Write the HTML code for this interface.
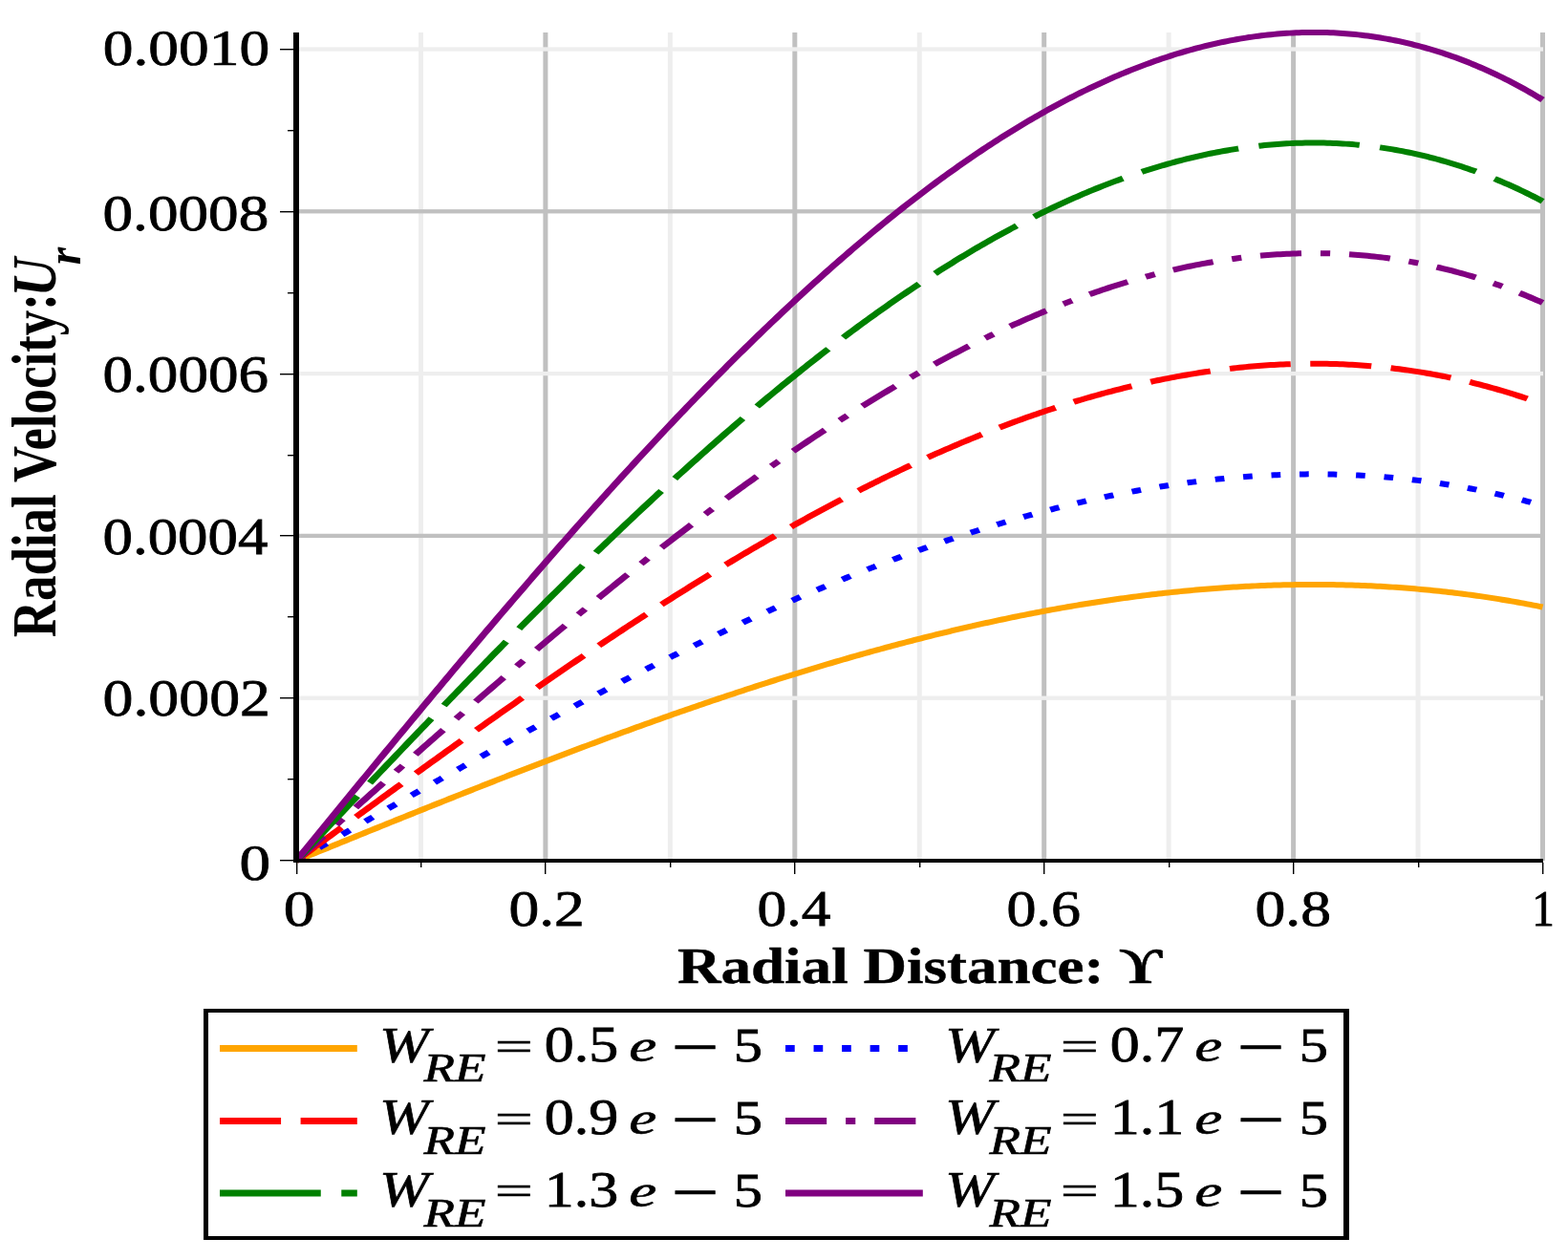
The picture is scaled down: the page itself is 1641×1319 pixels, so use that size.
<!DOCTYPE html>
<html><head><meta charset="utf-8"><style>
html,body{margin:0;padding:0;background:#fff;width:1641px;height:1319px;overflow:hidden}
svg{display:block}
text{font-family:'Liberation Serif', serif;fill:#000}
</style></head><body>
<svg width="1641" height="1319" viewBox="0 0 1641 1319">
<rect width="1641" height="1319" fill="#fff"/>
<rect x="437.95" y="34.0" width="5" height="867.0" fill="#eeeeee"/>
<rect x="568.40" y="34.0" width="5" height="867.0" fill="#c0c0c0"/>
<rect x="698.85" y="34.0" width="5" height="867.0" fill="#eeeeee"/>
<rect x="829.30" y="34.0" width="5" height="867.0" fill="#c0c0c0"/>
<rect x="959.75" y="34.0" width="5" height="867.0" fill="#eeeeee"/>
<rect x="1090.20" y="34.0" width="5" height="867.0" fill="#c0c0c0"/>
<rect x="1220.65" y="34.0" width="5" height="867.0" fill="#eeeeee"/>
<rect x="1351.10" y="34.0" width="5" height="867.0" fill="#c0c0c0"/>
<rect x="1481.55" y="34.0" width="5" height="867.0" fill="#eeeeee"/>
<rect x="1612.00" y="34.0" width="5" height="867.0" fill="#c0c0c0"/>
<rect x="313" y="728.55" width="1302" height="4.3" fill="#eeeeee"/>
<rect x="313" y="558.75" width="1302" height="4.3" fill="#c0c0c0"/>
<rect x="313" y="388.95" width="1302" height="4.3" fill="#eeeeee"/>
<rect x="313" y="219.15" width="1302" height="4.3" fill="#c0c0c0"/>
<rect x="313" y="49.35" width="1302" height="4.3" fill="#eeeeee"/>
<g transform="scale(1.244124,1)">
<polyline points="249.17,901.00 251.80,899.67 254.43,898.34 257.05,897.01 259.68,895.68 262.31,894.35 264.94,893.02 267.57,891.69 270.19,890.36 272.82,889.03 275.45,887.70 278.08,886.37 280.71,885.04 283.33,883.71 285.96,882.38 288.59,881.05 291.22,879.72 293.85,878.40 296.47,877.07 299.10,875.74 301.73,874.42 304.36,873.09 306.98,871.77 309.61,870.44 312.24,869.12 314.87,867.79 317.50,866.47 320.12,865.15 322.75,863.83 325.38,862.51 328.01,861.19 330.64,859.87 333.26,858.55 335.89,857.23 338.52,855.92 341.15,854.60 343.78,853.29 346.40,851.97 349.03,850.66 351.66,849.35 354.29,848.03 356.91,846.72 359.54,845.41 362.17,844.11 364.80,842.80 367.43,841.49 370.05,840.19 372.68,838.89 375.31,837.58 377.94,836.28 380.57,834.98 383.19,833.68 385.82,832.38 388.45,831.09 391.08,829.79 393.71,828.50 396.33,827.21 398.96,825.92 401.59,824.63 404.22,823.34 406.84,822.05 409.47,820.77 412.10,819.48 414.73,818.20 417.36,816.92 419.98,815.64 422.61,814.37 425.24,813.09 427.87,811.82 430.50,810.55 433.12,809.28 435.75,808.01 438.38,806.74 441.01,805.48 443.64,804.21 446.26,802.95 448.89,801.69 451.52,800.43 454.15,799.18 456.77,797.93 459.40,796.67 462.03,795.42 464.66,794.18 467.29,792.93 469.91,791.69 472.54,790.45 475.17,789.21 477.80,787.97 480.43,786.74 483.05,785.50 485.68,784.27 488.31,783.04 490.94,781.82 493.57,780.60 496.19,779.37 498.82,778.16 501.45,776.94 504.08,775.72 506.70,774.51 509.33,773.30 511.96,772.10 514.59,770.89 517.22,769.69 519.84,768.49 522.47,767.30 525.10,766.10 527.73,764.91 530.36,763.72 532.98,762.54 535.61,761.35 538.24,760.17 540.87,758.99 543.50,757.82 546.12,756.65 548.75,755.48 551.38,754.31 554.01,753.15 556.63,751.99 559.26,750.83 561.89,749.68 564.52,748.52 567.15,747.37 569.77,746.23 572.40,745.09 575.03,743.95 577.66,742.81 580.29,741.68 582.91,740.55 585.54,739.42 588.17,738.30 590.80,737.18 593.43,736.06 596.05,734.94 598.68,733.83 601.31,732.73 603.94,731.62 606.56,730.52 609.19,729.42 611.82,728.33 614.45,727.24 617.08,726.15 619.70,725.07 622.33,723.99 624.96,722.91 627.59,721.84 630.22,720.77 632.84,719.71 635.47,718.65 638.10,717.59 640.73,716.53 643.35,715.48 645.98,714.44 648.61,713.39 651.24,712.35 653.87,711.32 656.49,710.29 659.12,709.26 661.75,708.24 664.38,707.22 667.01,706.20 669.63,705.19 672.26,704.18 674.89,703.18 677.52,702.18 680.15,701.18 682.77,700.19 685.40,699.20 688.03,698.22 690.66,697.24 693.28,696.26 695.91,695.29 698.54,694.33 701.17,693.37 703.80,692.41 706.42,691.45 709.05,690.51 711.68,689.56 714.31,688.62 716.94,687.69 719.56,686.75 722.19,685.83 724.82,684.90 727.45,683.99 730.08,683.07 732.70,682.17 735.33,681.26 737.96,680.36 740.59,679.47 743.21,678.58 745.84,677.69 748.47,676.81 751.10,675.94 753.73,675.06 756.35,674.20 758.98,673.34 761.61,672.48 764.24,671.63 766.87,670.78 769.49,669.94 772.12,669.10 774.75,668.27 777.38,667.45 780.01,666.62 782.63,665.81 785.26,665.00 787.89,664.19 790.52,663.39 793.14,662.59 795.77,661.80 798.40,661.02 801.03,660.23 803.66,659.46 806.28,658.69 808.91,657.92 811.54,657.17 814.17,656.41 816.80,655.66 819.42,654.92 822.05,654.18 824.68,653.45 827.31,652.72 829.94,652.00 832.56,651.29 835.19,650.58 837.82,649.87 840.45,649.17 843.07,648.48 845.70,647.79 848.33,647.11 850.96,646.43 853.59,645.76 856.21,645.10 858.84,644.44 861.47,643.79 864.10,643.14 866.73,642.50 869.35,641.86 871.98,641.23 874.61,640.61 877.24,639.99 879.87,639.38 882.49,638.78 885.12,638.18 887.75,637.58 890.38,637.00 893.00,636.41 895.63,635.84 898.26,635.27 900.89,634.71 903.52,634.15 906.14,633.60 908.77,633.06 911.40,632.52 914.03,631.99 916.66,631.46 919.28,630.94 921.91,630.43 924.54,629.93 927.17,629.43 929.80,628.93 932.42,628.45 935.05,627.97 937.68,627.49 940.31,627.03 942.93,626.57 945.56,626.11 948.19,625.67 950.82,625.23 953.45,624.79 956.07,624.37 958.70,623.95 961.33,623.53 963.96,623.13 966.59,622.73 969.21,622.33 971.84,621.95 974.47,621.57 977.10,621.20 979.73,620.83 982.35,620.47 984.98,620.12 987.61,619.78 990.24,619.44 992.86,619.11 995.49,618.79 998.12,618.47 1000.75,618.16 1003.38,617.86 1006.00,617.57 1008.63,617.28 1011.26,617.00 1013.89,616.73 1016.52,616.46 1019.14,616.20 1021.77,615.95 1024.40,615.71 1027.03,615.47 1029.65,615.24 1032.28,615.02 1034.91,614.81 1037.54,614.60 1040.17,614.41 1042.79,614.21 1045.42,614.03 1048.05,613.86 1050.68,613.69 1053.31,613.53 1055.93,613.37 1058.56,613.23 1061.19,613.09 1063.82,612.96 1066.45,612.84 1069.07,612.73 1071.70,612.62 1074.33,612.52 1076.96,612.43 1079.58,612.35 1082.21,612.27 1084.84,612.21 1087.47,612.15 1090.10,612.10 1092.72,612.05 1095.35,612.02 1097.98,611.99 1100.61,611.97 1103.24,611.96 1105.86,611.96 1108.49,611.97 1111.12,611.98 1113.75,612.00 1116.38,612.03 1119.00,612.07 1121.63,612.12 1124.26,612.17 1126.89,612.24 1129.51,612.31 1132.14,612.39 1134.77,612.48 1137.40,612.58 1140.03,612.68 1142.65,612.80 1145.28,612.92 1147.91,613.05 1150.54,613.19 1153.17,613.34 1155.79,613.50 1158.42,613.66 1161.05,613.84 1163.68,614.02 1166.31,614.21 1168.93,614.42 1171.56,614.63 1174.19,614.84 1176.82,615.07 1179.44,615.31 1182.07,615.55 1184.70,615.81 1187.33,616.07 1189.96,616.34 1192.58,616.62 1195.21,616.91 1197.84,617.21 1200.47,617.52 1203.10,617.83 1205.72,618.16 1208.35,618.50 1210.98,618.84 1213.61,619.19 1216.24,619.56 1218.86,619.93 1221.49,620.31 1224.12,620.70 1226.75,621.10 1229.37,621.51 1232.00,621.93 1234.63,622.35 1237.26,622.79 1239.89,623.24 1242.51,623.69 1245.14,624.16 1247.77,624.63 1250.40,625.12 1253.03,625.61 1255.65,626.12 1258.28,626.63 1260.91,627.15 1263.54,627.69 1266.17,628.23 1268.79,628.78 1271.42,629.34 1274.05,629.91 1276.68,630.49 1279.30,631.09 1281.93,631.69 1284.56,632.30 1287.19,632.92 1289.82,633.55 1292.44,634.19 1295.07,634.84 1297.70,635.50" fill="none" stroke="#ffa500" stroke-width="6"/>
<polyline points="249.17,901.00 251.80,899.14 254.43,897.27 257.05,895.41 259.68,893.55 262.31,891.68 264.94,889.82 267.57,887.96 270.19,886.10 272.82,884.24 275.45,882.37 278.08,880.51 280.71,878.65 283.33,876.79 285.96,874.93 288.59,873.07 291.22,871.21 293.85,869.36 296.47,867.50 299.10,865.64 301.73,863.78 304.36,861.93 306.98,860.07 309.61,858.22 312.24,856.37 314.87,854.51 317.50,852.66 320.12,850.81 322.75,848.96 325.38,847.11 328.01,845.26 330.64,843.42 333.26,841.57 335.89,839.73 338.52,837.88 341.15,836.04 343.78,834.20 346.40,832.36 349.03,830.52 351.66,828.68 354.29,826.85 356.91,825.01 359.54,823.18 362.17,821.35 364.80,819.52 367.43,817.69 370.05,815.86 372.68,814.04 375.31,812.22 377.94,810.39 380.57,808.57 383.19,806.76 385.82,804.94 388.45,803.12 391.08,801.31 393.71,799.50 396.33,797.69 398.96,795.88 401.59,794.08 404.22,792.28 406.84,790.47 409.47,788.68 412.10,786.88 414.73,785.08 417.36,783.29 419.98,781.50 422.61,779.71 425.24,777.93 427.87,776.15 430.50,774.36 433.12,772.59 435.75,770.81 438.38,769.04 441.01,767.27 443.64,765.50 446.26,763.73 448.89,761.97 451.52,760.21 454.15,758.45 456.77,756.70 459.40,754.94 462.03,753.19 464.66,751.45 467.29,749.70 469.91,747.96 472.54,746.23 475.17,744.49 477.80,742.76 480.43,741.03 483.05,739.30 485.68,737.58 488.31,735.86 490.94,734.15 493.57,732.43 496.19,730.72 498.82,729.02 501.45,727.31 504.08,725.61 506.70,723.92 509.33,722.23 511.96,720.54 514.59,718.85 517.22,717.17 519.84,715.49 522.47,713.81 525.10,712.14 527.73,710.47 530.36,708.81 532.98,707.15 535.61,705.49 538.24,703.84 540.87,702.19 543.50,700.55 546.12,698.91 548.75,697.27 551.38,695.64 554.01,694.01 556.63,692.38 559.26,690.76 561.89,689.15 564.52,687.53 567.15,685.92 569.77,684.32 572.40,682.72 575.03,681.13 577.66,679.53 580.29,677.95 582.91,676.37 585.54,674.79 588.17,673.21 590.80,671.65 593.43,670.08 596.05,668.52 598.68,666.97 601.31,665.42 603.94,663.87 606.56,662.33 609.19,660.79 611.82,659.26 614.45,657.74 617.08,656.21 619.70,654.70 622.33,653.19 624.96,651.68 627.59,650.18 630.22,648.68 632.84,647.19 635.47,645.70 638.10,644.22 640.73,642.75 643.35,641.28 645.98,639.81 648.61,638.35 651.24,636.89 653.87,635.45 656.49,634.00 659.12,632.56 661.75,631.13 664.38,629.70 667.01,628.28 669.63,626.86 672.26,625.45 674.89,624.05 677.52,622.65 680.15,621.25 682.77,619.87 685.40,618.48 688.03,617.11 690.66,615.74 693.28,614.37 695.91,613.01 698.54,611.66 701.17,610.31 703.80,608.97 706.42,607.64 709.05,606.31 711.68,604.99 714.31,603.67 716.94,602.36 719.56,601.06 722.19,599.76 724.82,598.47 727.45,597.18 730.08,595.90 732.70,594.63 735.33,593.37 737.96,592.11 740.59,590.85 743.21,589.61 745.84,588.37 748.47,587.14 751.10,585.91 753.73,584.69 756.35,583.48 758.98,582.27 761.61,581.07 764.24,579.88 766.87,578.70 769.49,577.52 772.12,576.35 774.75,575.18 777.38,574.02 780.01,572.87 782.63,571.73 785.26,570.59 787.89,569.46 790.52,568.34 793.14,567.23 795.77,566.12 798.40,565.02 801.03,563.93 803.66,562.84 806.28,561.77 808.91,560.69 811.54,559.63 814.17,558.58 816.80,557.53 819.42,556.49 822.05,555.46 824.68,554.43 827.31,553.41 829.94,552.40 832.56,551.40 835.19,550.41 837.82,549.42 840.45,548.44 843.07,547.47 845.70,546.51 848.33,545.56 850.96,544.61 853.59,543.67 856.21,542.74 858.84,541.82 861.47,540.90 864.10,540.00 866.73,539.10 869.35,538.21 871.98,537.33 874.61,536.46 877.24,535.59 879.87,534.73 882.49,533.89 885.12,533.05 887.75,532.22 890.38,531.39 893.00,530.58 895.63,529.78 898.26,528.98 900.89,528.19 903.52,527.41 906.14,526.64 908.77,525.88 911.40,525.13 914.03,524.38 916.66,523.65 919.28,522.92 921.91,522.20 924.54,521.50 927.17,520.80 929.80,520.11 932.42,519.43 935.05,518.75 937.68,518.09 940.31,517.44 942.93,516.79 945.56,516.16 948.19,515.53 950.82,514.92 953.45,514.31 956.07,513.71 958.70,513.12 961.33,512.55 963.96,511.98 966.59,511.42 969.21,510.87 971.84,510.33 974.47,509.80 977.10,509.27 979.73,508.76 982.35,508.26 984.98,507.77 987.61,507.29 990.24,506.82 992.86,506.35 995.49,505.90 998.12,505.46 1000.75,505.03 1003.38,504.60 1006.00,504.19 1008.63,503.79 1011.26,503.40 1013.89,503.02 1016.52,502.65 1019.14,502.28 1021.77,501.93 1024.40,501.59 1027.03,501.26 1029.65,500.94 1032.28,500.63 1034.91,500.33 1037.54,500.05 1040.17,499.77 1042.79,499.50 1045.42,499.24 1048.05,499.00 1050.68,498.76 1053.31,498.54 1055.93,498.32 1058.56,498.12 1061.19,497.93 1063.82,497.75 1066.45,497.58 1069.07,497.42 1071.70,497.27 1074.33,497.13 1076.96,497.00 1079.58,496.89 1082.21,496.78 1084.84,496.69 1087.47,496.61 1090.10,496.53 1092.72,496.47 1095.35,496.43 1097.98,496.39 1100.61,496.36 1103.24,496.35 1105.86,496.34 1108.49,496.35 1111.12,496.37 1113.75,496.40 1116.38,496.45 1119.00,496.50 1121.63,496.57 1124.26,496.64 1126.89,496.73 1129.51,496.83 1132.14,496.95 1134.77,497.07 1137.40,497.21 1140.03,497.36 1142.65,497.52 1145.28,497.69 1147.91,497.87 1150.54,498.07 1153.17,498.28 1155.79,498.50 1158.42,498.73 1161.05,498.97 1163.68,499.23 1166.31,499.50 1168.93,499.78 1171.56,500.08 1174.19,500.38 1176.82,500.70 1179.44,501.03 1182.07,501.37 1184.70,501.73 1187.33,502.10 1189.96,502.48 1192.58,502.87 1195.21,503.27 1197.84,503.69 1200.47,504.12 1203.10,504.57 1205.72,505.02 1208.35,505.49 1210.98,505.98 1213.61,506.47 1216.24,506.98 1218.86,507.50 1221.49,508.03 1224.12,508.58 1226.75,509.14 1229.37,509.71 1232.00,510.30 1234.63,510.90 1237.26,511.51 1239.89,512.13 1242.51,512.77 1245.14,513.42 1247.77,514.09 1250.40,514.77 1253.03,515.46 1255.65,516.16 1258.28,516.88 1260.91,517.61 1263.54,518.36 1266.17,519.12 1268.79,519.89 1271.42,520.68 1274.05,521.48 1276.68,522.29 1279.30,523.12 1281.93,523.96 1284.56,524.82 1287.19,525.69 1289.82,526.57 1292.44,527.46 1295.07,528.38 1297.70,529.30" fill="none" stroke="#0000ff" stroke-width="6" stroke-dasharray="7.8 15.94"/>
<polyline points="249.17,901.00 251.80,898.60 254.43,896.21 257.05,893.81 259.68,891.42 262.31,889.02 264.94,886.63 267.57,884.23 270.19,881.84 272.82,879.45 275.45,877.05 278.08,874.66 280.71,872.27 283.33,869.88 285.96,867.48 288.59,865.09 291.22,862.70 293.85,860.31 296.47,857.93 299.10,855.54 301.73,853.15 304.36,850.76 306.98,848.38 309.61,846.00 312.24,843.61 314.87,841.23 317.50,838.85 320.12,836.47 322.75,834.09 325.38,831.71 328.01,829.34 330.64,826.96 333.26,824.59 335.89,822.22 338.52,819.85 341.15,817.48 343.78,815.11 346.40,812.75 349.03,810.38 351.66,808.02 354.29,805.66 356.91,803.30 359.54,800.95 362.17,798.59 364.80,796.24 367.43,793.89 370.05,791.54 372.68,789.19 375.31,786.85 377.94,784.51 380.57,782.17 383.19,779.83 385.82,777.49 388.45,775.16 391.08,772.83 393.71,770.50 396.33,768.17 398.96,765.85 401.59,763.53 404.22,761.21 406.84,758.90 409.47,756.58 412.10,754.27 414.73,751.97 417.36,749.66 419.98,747.36 422.61,745.06 425.24,742.77 427.87,740.47 430.50,738.18 433.12,735.90 435.75,733.61 438.38,731.33 441.01,729.06 443.64,726.78 446.26,724.51 448.89,722.25 451.52,719.98 454.15,717.72 456.77,715.47 459.40,713.21 462.03,710.96 464.66,708.72 467.29,706.48 469.91,704.24 472.54,702.00 475.17,699.77 477.80,697.55 480.43,695.32 483.05,693.11 485.68,690.89 488.31,688.68 490.94,686.47 493.57,684.27 496.19,682.07 498.82,679.88 501.45,677.69 504.08,675.50 506.70,673.32 509.33,671.15 511.96,668.97 514.59,666.81 517.22,664.64 519.84,662.49 522.47,660.33 525.10,658.18 527.73,656.04 530.36,653.90 532.98,651.76 535.61,649.63 538.24,647.51 540.87,645.39 543.50,643.28 546.12,641.17 548.75,639.06 551.38,636.96 554.01,634.87 556.63,632.78 559.26,630.69 561.89,628.62 564.52,626.54 567.15,624.47 569.77,622.41 572.40,620.36 575.03,618.30 577.66,616.26 580.29,614.22 582.91,612.18 585.54,610.16 588.17,608.13 590.80,606.12 593.43,604.10 596.05,602.10 598.68,600.10 601.31,598.11 603.94,596.12 606.56,594.14 609.19,592.16 611.82,590.19 614.45,588.23 617.08,586.28 619.70,584.33 622.33,582.38 624.96,580.45 627.59,578.51 630.22,576.59 632.84,574.67 635.47,572.76 638.10,570.86 640.73,568.96 643.35,567.07 645.98,565.18 648.61,563.31 651.24,561.44 653.87,559.57 656.49,557.72 659.12,555.87 661.75,554.02 664.38,552.19 667.01,550.36 669.63,548.54 672.26,546.72 674.89,544.92 677.52,543.12 680.15,541.33 682.77,539.54 685.40,537.76 688.03,535.99 690.66,534.23 693.28,532.48 695.91,530.73 698.54,528.99 701.17,527.26 703.80,525.53 706.42,523.82 709.05,522.11 711.68,520.41 714.31,518.72 716.94,517.03 719.56,515.36 722.19,513.69 724.82,512.03 727.45,510.38 730.08,508.73 732.70,507.10 735.33,505.47 737.96,503.85 740.59,502.24 743.21,500.64 745.84,499.05 748.47,497.46 751.10,495.88 753.73,494.32 756.35,492.76 758.98,491.21 761.61,489.67 764.24,488.13 766.87,486.61 769.49,485.09 772.12,483.59 774.75,482.09 777.38,480.60 780.01,479.12 782.63,477.65 785.26,476.19 787.89,474.74 790.52,473.30 793.14,471.87 795.77,470.44 798.40,469.03 801.03,467.62 803.66,466.23 806.28,464.84 808.91,463.46 811.54,462.10 814.17,460.74 816.80,459.39 819.42,458.06 822.05,456.73 824.68,455.41 827.31,454.10 829.94,452.80 832.56,451.52 835.19,450.24 837.82,448.97 840.45,447.71 843.07,446.46 845.70,445.23 848.33,444.00 850.96,442.78 853.59,441.58 856.21,440.38 858.84,439.19 861.47,438.02 864.10,436.85 866.73,435.70 869.35,434.56 871.98,433.42 874.61,432.30 877.24,431.19 879.87,430.09 882.49,429.00 885.12,427.92 887.75,426.85 890.38,425.79 893.00,424.75 895.63,423.71 898.26,422.69 900.89,421.67 903.52,420.67 906.14,419.68 908.77,418.70 911.40,417.74 914.03,416.78 916.66,415.83 919.28,414.90 921.91,413.98 924.54,413.07 927.17,412.17 929.80,411.28 932.42,410.41 935.05,409.54 937.68,408.69 940.31,407.85 942.93,407.02 945.56,406.20 948.19,405.40 950.82,404.61 953.45,403.83 956.07,403.06 958.70,402.30 961.33,401.56 963.96,400.83 966.59,400.11 969.21,399.40 971.84,398.71 974.47,398.02 977.10,397.35 979.73,396.70 982.35,396.05 984.98,395.42 987.61,394.80 990.24,394.19 992.86,393.60 995.49,393.02 998.12,392.45 1000.75,391.89 1003.38,391.35 1006.00,390.82 1008.63,390.30 1011.26,389.80 1013.89,389.31 1016.52,388.83 1019.14,388.37 1021.77,387.91 1024.40,387.48 1027.03,387.05 1029.65,386.64 1032.28,386.24 1034.91,385.86 1037.54,385.49 1040.17,385.13 1042.79,384.79 1045.42,384.46 1048.05,384.14 1050.68,383.84 1053.31,383.55 1055.93,383.27 1058.56,383.01 1061.19,382.76 1063.82,382.53 1066.45,382.31 1069.07,382.11 1071.70,381.91 1074.33,381.74 1076.96,381.57 1079.58,381.42 1082.21,381.29 1084.84,381.17 1087.47,381.06 1090.10,380.97 1092.72,380.90 1095.35,380.83 1097.98,380.79 1100.61,380.75 1103.24,380.73 1105.86,380.73 1108.49,380.74 1111.12,380.76 1113.75,380.80 1116.38,380.86 1119.00,380.93 1121.63,381.01 1124.26,381.11 1126.89,381.23 1129.51,381.36 1132.14,381.50 1134.77,381.66 1137.40,381.84 1140.03,382.03 1142.65,382.24 1145.28,382.46 1147.91,382.69 1150.54,382.95 1153.17,383.21 1155.79,383.50 1158.42,383.80 1161.05,384.11 1163.68,384.44 1166.31,384.79 1168.93,385.15 1171.56,385.53 1174.19,385.92 1176.82,386.33 1179.44,386.75 1182.07,387.19 1184.70,387.65 1187.33,388.12 1189.96,388.61 1192.58,389.12 1195.21,389.64 1197.84,390.18 1200.47,390.73 1203.10,391.30 1205.72,391.89 1208.35,392.49 1210.98,393.11 1213.61,393.75 1216.24,394.40 1218.86,395.07 1221.49,395.76 1224.12,396.46 1226.75,397.18 1229.37,397.91 1232.00,398.67 1234.63,399.44 1237.26,400.22 1239.89,401.03 1242.51,401.85 1245.14,402.69 1247.77,403.54 1250.40,404.41 1253.03,405.30 1255.65,406.21 1258.28,407.13 1260.91,408.08 1263.54,409.03 1266.17,410.01 1268.79,411.00 1271.42,412.02 1274.05,413.04 1276.68,414.09 1279.30,415.15 1281.93,416.24 1284.56,417.34 1287.19,418.45 1289.82,419.59 1292.44,420.74 1295.07,421.91 1297.70,423.10" fill="none" stroke="#ff0000" stroke-width="6" stroke-dasharray="51.5 16.5"/>
<polyline points="249.17,901.00 251.80,898.07 254.43,895.14 257.05,892.22 259.68,889.29 262.31,886.36 264.94,883.44 267.57,880.51 270.19,877.58 272.82,874.66 275.45,871.73 278.08,868.81 280.71,865.88 283.33,862.96 285.96,860.04 288.59,857.11 291.22,854.19 293.85,851.27 296.47,848.35 299.10,845.43 301.73,842.52 304.36,839.60 306.98,836.69 309.61,833.77 312.24,830.86 314.87,827.95 317.50,825.04 320.12,822.13 322.75,819.22 325.38,816.32 328.01,813.41 330.64,810.51 333.26,807.61 335.89,804.71 338.52,801.82 341.15,798.92 343.78,796.03 346.40,793.14 349.03,790.25 351.66,787.36 354.29,784.48 356.91,781.59 359.54,778.71 362.17,775.83 364.80,772.96 367.43,770.09 370.05,767.22 372.68,764.35 375.31,761.48 377.94,758.62 380.57,755.76 383.19,752.90 385.82,750.05 388.45,747.19 391.08,744.35 393.71,741.50 396.33,738.66 398.96,735.82 401.59,732.98 404.22,730.15 406.84,727.32 409.47,724.49 412.10,721.67 414.73,718.85 417.36,716.03 419.98,713.22 422.61,710.41 425.24,707.60 427.87,704.80 430.50,702.00 433.12,699.21 435.75,696.42 438.38,693.63 441.01,690.85 443.64,688.07 446.26,685.29 448.89,682.52 451.52,679.76 454.15,676.99 456.77,674.24 459.40,671.48 462.03,668.73 464.66,665.99 467.29,663.25 469.91,660.51 472.54,657.78 475.17,655.06 477.80,652.33 480.43,649.62 483.05,646.91 485.68,644.20 488.31,641.50 490.94,638.80 493.57,636.11 496.19,633.42 498.82,630.74 501.45,628.06 504.08,625.39 506.70,622.73 509.33,620.07 511.96,617.41 514.59,614.76 517.22,612.12 519.84,609.48 522.47,606.85 525.10,604.22 527.73,601.60 530.36,598.99 532.98,596.38 535.61,593.78 538.24,591.18 540.87,588.59 543.50,586.00 546.12,583.42 548.75,580.85 551.38,578.29 554.01,575.73 556.63,573.17 559.26,570.63 561.89,568.09 564.52,565.55 567.15,563.02 569.77,560.50 572.40,557.99 575.03,555.48 577.66,552.98 580.29,550.49 582.91,548.00 585.54,545.52 588.17,543.05 590.80,540.59 593.43,538.13 596.05,535.68 598.68,533.23 601.31,530.80 603.94,528.37 606.56,525.95 609.19,523.53 611.82,521.13 614.45,518.73 617.08,516.34 619.70,513.95 622.33,511.58 624.96,509.21 627.59,506.85 630.22,504.50 632.84,502.16 635.47,499.82 638.10,497.49 640.73,495.17 643.35,492.86 645.98,490.56 648.61,488.26 651.24,485.98 653.87,483.70 656.49,481.43 659.12,479.17 661.75,476.92 664.38,474.67 667.01,472.44 669.63,470.21 672.26,468.00 674.89,465.79 677.52,463.59 680.15,461.40 682.77,459.22 685.40,457.04 688.03,454.88 690.66,452.73 693.28,450.58 695.91,448.45 698.54,446.32 701.17,444.21 703.80,442.10 706.42,440.00 709.05,437.91 711.68,435.83 714.31,433.77 716.94,431.71 719.56,429.66 722.19,427.62 724.82,425.59 727.45,423.57 730.08,421.56 732.70,419.56 735.33,417.57 737.96,415.60 740.59,413.63 743.21,411.67 745.84,409.72 748.47,407.79 751.10,405.86 753.73,403.94 756.35,402.04 758.98,400.14 761.61,398.26 764.24,396.38 766.87,394.52 769.49,392.67 772.12,390.83 774.75,389.00 777.38,387.18 780.01,385.37 782.63,383.58 785.26,381.79 787.89,380.02 790.52,378.25 793.14,376.50 795.77,374.76 798.40,373.03 801.03,371.32 803.66,369.61 806.28,367.92 808.91,366.23 811.54,364.56 814.17,362.91 816.80,361.26 819.42,359.62 822.05,358.00 824.68,356.39 827.31,354.79 829.94,353.21 832.56,351.63 835.19,350.07 837.82,348.52 840.45,346.98 843.07,345.46 845.70,343.94 848.33,342.44 850.96,340.96 853.59,339.48 856.21,338.02 858.84,336.57 861.47,335.13 864.10,333.71 866.73,332.30 869.35,330.90 871.98,329.52 874.61,328.14 877.24,326.79 879.87,325.44 882.49,324.11 885.12,322.79 887.75,321.48 890.38,320.19 893.00,318.91 895.63,317.65 898.26,316.40 900.89,315.16 903.52,313.93 906.14,312.72 908.77,311.53 911.40,310.34 914.03,309.17 916.66,308.02 919.28,306.88 921.91,305.75 924.54,304.64 927.17,303.54 929.80,302.45 932.42,301.38 935.05,300.33 937.68,299.29 940.31,298.26 942.93,297.25 945.56,296.25 948.19,295.27 950.82,294.30 953.45,293.34 956.07,292.41 958.70,291.48 961.33,290.57 963.96,289.68 966.59,288.80 969.21,287.93 971.84,287.08 974.47,286.25 977.10,285.43 979.73,284.63 982.35,283.84 984.98,283.07 987.61,282.31 990.24,281.57 992.86,280.84 995.49,280.13 998.12,279.44 1000.75,278.76 1003.38,278.09 1006.00,277.45 1008.63,276.81 1011.26,276.20 1013.89,275.60 1016.52,275.01 1019.14,274.45 1021.77,273.90 1024.40,273.36 1027.03,272.84 1029.65,272.34 1032.28,271.85 1034.91,271.38 1037.54,270.93 1040.17,270.49 1042.79,270.07 1045.42,269.67 1048.05,269.28 1050.68,268.91 1053.31,268.56 1055.93,268.22 1058.56,267.90 1061.19,267.60 1063.82,267.31 1066.45,267.05 1069.07,266.80 1071.70,266.56 1074.33,266.34 1076.96,266.15 1079.58,265.96 1082.21,265.80 1084.84,265.65 1087.47,265.52 1090.10,265.41 1092.72,265.32 1095.35,265.24 1097.98,265.18 1100.61,265.14 1103.24,265.12 1105.86,265.11 1108.49,265.13 1111.12,265.16 1113.75,265.21 1116.38,265.27 1119.00,265.36 1121.63,265.46 1124.26,265.58 1126.89,265.72 1129.51,265.88 1132.14,266.06 1134.77,266.26 1137.40,266.47 1140.03,266.70 1142.65,266.96 1145.28,267.23 1147.91,267.52 1150.54,267.82 1153.17,268.15 1155.79,268.50 1158.42,268.86 1161.05,269.25 1163.68,269.65 1166.31,270.07 1168.93,270.51 1171.56,270.98 1174.19,271.46 1176.82,271.96 1179.44,272.47 1182.07,273.01 1184.70,273.57 1187.33,274.15 1189.96,274.75 1192.58,275.37 1195.21,276.00 1197.84,276.66 1200.47,277.34 1203.10,278.04 1205.72,278.75 1208.35,279.49 1210.98,280.25 1213.61,281.02 1216.24,281.82 1218.86,282.64 1221.49,283.48 1224.12,284.34 1226.75,285.22 1229.37,286.12 1232.00,287.04 1234.63,287.98 1237.26,288.94 1239.89,289.92 1242.51,290.93 1245.14,291.95 1247.77,293.00 1250.40,294.06 1253.03,295.15 1255.65,296.26 1258.28,297.39 1260.91,298.54 1263.54,299.71 1266.17,300.90 1268.79,302.12 1271.42,303.35 1274.05,304.61 1276.68,305.89 1279.30,307.19 1281.93,308.51 1284.56,309.85 1287.19,311.22 1289.82,312.61 1292.44,314.02 1295.07,315.45 1297.70,316.90" fill="none" stroke="#800080" stroke-width="6" stroke-dasharray="34.7 16 8.2 16"/>
<polyline points="249.17,901.00 251.80,897.54 254.43,894.08 257.05,890.62 259.68,887.16 262.31,883.70 264.94,880.24 267.57,876.78 270.19,873.32 272.82,869.87 275.45,866.41 278.08,862.95 280.71,859.50 283.33,856.04 285.96,852.59 288.59,849.13 291.22,845.68 293.85,842.23 296.47,838.78 299.10,835.33 301.73,831.88 304.36,828.44 306.98,824.99 309.61,821.55 312.24,818.11 314.87,814.67 317.50,811.23 320.12,807.79 322.75,804.35 325.38,800.92 328.01,797.49 330.64,794.06 333.26,790.63 335.89,787.21 338.52,783.78 341.15,780.36 343.78,776.94 346.40,773.52 349.03,770.11 351.66,766.70 354.29,763.29 356.91,759.88 359.54,756.48 362.17,753.08 364.80,749.68 367.43,746.28 370.05,742.89 372.68,739.50 375.31,736.11 377.94,732.73 380.57,729.35 383.19,725.97 385.82,722.60 388.45,719.23 391.08,715.86 393.71,712.50 396.33,709.14 398.96,705.78 401.59,702.43 404.22,699.08 406.84,695.74 409.47,692.40 412.10,689.06 414.73,685.73 417.36,682.40 419.98,679.07 422.61,675.75 425.24,672.44 427.87,669.13 430.50,665.82 433.12,662.52 435.75,659.22 438.38,655.93 441.01,652.64 443.64,649.35 446.26,646.07 448.89,642.80 451.52,639.53 454.15,636.27 456.77,633.01 459.40,629.75 462.03,626.50 464.66,623.26 467.29,620.02 469.91,616.79 472.54,613.56 475.17,610.34 477.80,607.12 480.43,603.91 483.05,600.71 485.68,597.51 488.31,594.32 490.94,591.13 493.57,587.95 496.19,584.77 498.82,581.60 501.45,578.44 504.08,575.28 506.70,572.13 509.33,568.99 511.96,565.85 514.59,562.72 517.22,559.60 519.84,556.48 522.47,553.37 525.10,550.26 527.73,547.17 530.36,544.08 532.98,540.99 535.61,537.92 538.24,534.85 540.87,531.79 543.50,528.73 546.12,525.68 548.75,522.64 551.38,519.61 554.01,516.59 556.63,513.57 559.26,510.56 561.89,507.56 564.52,504.56 567.15,501.57 569.77,498.59 572.40,495.62 575.03,492.66 577.66,489.71 580.29,486.76 582.91,483.82 585.54,480.89 588.17,477.97 590.80,475.06 593.43,472.15 596.05,469.25 598.68,466.37 601.31,463.49 603.94,460.62 606.56,457.76 609.19,454.90 611.82,452.06 614.45,449.22 617.08,446.40 619.70,443.58 622.33,440.77 624.96,437.98 627.59,435.19 630.22,432.41 632.84,429.64 635.47,426.88 638.10,424.13 640.73,421.39 643.35,418.65 645.98,415.93 648.61,413.22 651.24,410.52 653.87,407.83 656.49,405.14 659.12,402.47 661.75,399.81 664.38,397.16 667.01,394.52 669.63,391.89 672.26,389.27 674.89,386.66 677.52,384.06 680.15,381.47 682.77,378.89 685.40,376.33 688.03,373.77 690.66,371.22 693.28,368.69 695.91,366.17 698.54,363.65 701.17,361.15 703.80,358.66 706.42,356.18 709.05,353.72 711.68,351.26 714.31,348.81 716.94,346.38 719.56,343.96 722.19,341.55 724.82,339.15 727.45,336.77 730.08,334.39 732.70,332.03 735.33,329.68 737.96,327.34 740.59,325.01 743.21,322.70 745.84,320.40 748.47,318.11 751.10,315.83 753.73,313.57 756.35,311.32 758.98,309.08 761.61,306.85 764.24,304.64 766.87,302.43 769.49,300.25 772.12,298.07 774.75,295.91 777.38,293.76 780.01,291.62 782.63,289.50 785.26,287.39 787.89,285.29 790.52,283.21 793.14,281.14 795.77,279.08 798.40,277.04 801.03,275.01 803.66,272.99 806.28,270.99 808.91,269.00 811.54,267.03 814.17,265.07 816.80,263.12 819.42,261.19 822.05,259.27 824.68,257.37 827.31,255.48 829.94,253.61 832.56,251.75 835.19,249.90 837.82,248.07 840.45,246.25 843.07,244.45 845.70,242.66 848.33,240.89 850.96,239.13 853.59,237.39 856.21,235.66 858.84,233.95 861.47,232.25 864.10,230.57 866.73,228.90 869.35,227.25 871.98,225.61 874.61,223.99 877.24,222.38 879.87,220.79 882.49,219.22 885.12,217.66 887.75,216.12 890.38,214.59 893.00,213.08 895.63,211.58 898.26,210.10 900.89,208.64 903.52,207.19 906.14,205.76 908.77,204.35 911.40,202.95 914.03,201.57 916.66,200.20 919.28,198.86 921.91,197.52 924.54,196.21 927.17,194.91 929.80,193.63 932.42,192.36 935.05,191.12 937.68,189.88 940.31,188.67 942.93,187.47 945.56,186.30 948.19,185.13 950.82,183.99 953.45,182.86 956.07,181.75 958.70,180.66 961.33,179.58 963.96,178.53 966.59,177.49 969.21,176.47 971.84,175.46 974.47,174.48 977.10,173.51 979.73,172.56 982.35,171.63 984.98,170.72 987.61,169.82 990.24,168.94 992.86,168.09 995.49,167.25 998.12,166.42 1000.75,165.62 1003.38,164.84 1006.00,164.07 1008.63,163.33 1011.26,162.60 1013.89,161.89 1016.52,161.20 1019.14,160.53 1021.77,159.88 1024.40,159.24 1027.03,158.63 1029.65,158.04 1032.28,157.46 1034.91,156.91 1037.54,156.37 1040.17,155.85 1042.79,155.36 1045.42,154.88 1048.05,154.42 1050.68,153.99 1053.31,153.57 1055.93,153.17 1058.56,152.79 1061.19,152.44 1063.82,152.10 1066.45,151.78 1069.07,151.49 1071.70,151.21 1074.33,150.95 1076.96,150.72 1079.58,150.50 1082.21,150.31 1084.84,150.13 1087.47,149.98 1090.10,149.85 1092.72,149.74 1095.35,149.65 1097.98,149.58 1100.61,149.53 1103.24,149.50 1105.86,149.50 1108.49,149.51 1111.12,149.55 1113.75,149.61 1116.38,149.69 1119.00,149.79 1121.63,149.91 1124.26,150.05 1126.89,150.22 1129.51,150.41 1132.14,150.62 1134.77,150.85 1137.40,151.10 1140.03,151.38 1142.65,151.67 1145.28,151.99 1147.91,152.34 1150.54,152.70 1153.17,153.09 1155.79,153.50 1158.42,153.93 1161.05,154.38 1163.68,154.86 1166.31,155.36 1168.93,155.88 1171.56,156.43 1174.19,156.99 1176.82,157.58 1179.44,158.20 1182.07,158.83 1184.70,159.49 1187.33,160.18 1189.96,160.88 1192.58,161.61 1195.21,162.37 1197.84,163.14 1200.47,163.94 1203.10,164.77 1205.72,165.62 1208.35,166.49 1210.98,167.38 1213.61,168.30 1216.24,169.24 1218.86,170.21 1221.49,171.20 1224.12,172.22 1226.75,173.26 1229.37,174.32 1232.00,175.41 1234.63,176.52 1237.26,177.66 1239.89,178.82 1242.51,180.00 1245.14,181.21 1247.77,182.45 1250.40,183.71 1253.03,184.99 1255.65,186.30 1258.28,187.64 1260.91,189.00 1263.54,190.38 1266.17,191.79 1268.79,193.23 1271.42,194.69 1274.05,196.18 1276.68,197.69 1279.30,199.22 1281.93,200.79 1284.56,202.37 1287.19,203.99 1289.82,205.63 1292.44,207.29 1295.07,208.98 1297.70,210.70" fill="none" stroke="#008000" stroke-width="6" stroke-dasharray="85 17.3"/>
<polyline points="249.17,901.00 251.80,897.01 254.43,893.02 257.05,889.02 259.68,885.03 262.31,881.04 264.94,877.05 267.57,873.06 270.19,869.07 272.82,865.08 275.45,861.09 278.08,857.10 280.71,853.11 283.33,849.13 285.96,845.14 288.59,841.16 291.22,837.17 293.85,833.19 296.47,829.21 299.10,825.23 301.73,821.25 304.36,817.27 306.98,813.30 309.61,809.33 312.24,805.35 314.87,801.38 317.50,797.42 320.12,793.45 322.75,789.49 325.38,785.52 328.01,781.56 330.64,777.61 333.26,773.65 335.89,769.70 338.52,765.75 341.15,761.80 343.78,757.86 346.40,753.91 349.03,749.97 351.66,746.04 354.29,742.10 356.91,738.17 359.54,734.24 362.17,730.32 364.80,726.40 367.43,722.48 370.05,718.57 372.68,714.66 375.31,710.75 377.94,706.84 380.57,702.94 383.19,699.05 385.82,695.15 388.45,691.27 391.08,687.38 393.71,683.50 396.33,679.62 398.96,675.75 401.59,671.88 404.22,668.02 406.84,664.16 409.47,660.30 412.10,656.45 414.73,652.61 417.36,648.77 419.98,644.93 422.61,641.10 425.24,637.28 427.87,633.45 430.50,629.64 433.12,625.83 435.75,622.02 438.38,618.22 441.01,614.43 443.64,610.64 446.26,606.85 448.89,603.08 451.52,599.30 454.15,595.54 456.77,591.78 459.40,588.02 462.03,584.27 464.66,580.53 467.29,576.79 469.91,573.06 472.54,569.34 475.17,565.62 477.80,561.91 480.43,558.21 483.05,554.51 485.68,550.82 488.31,547.13 490.94,543.46 493.57,539.79 496.19,536.12 498.82,532.47 501.45,528.82 504.08,525.17 506.70,521.54 509.33,517.91 511.96,514.29 514.59,510.68 517.22,507.07 519.84,503.48 522.47,499.89 525.10,496.31 527.73,492.73 530.36,489.17 532.98,485.61 535.61,482.06 538.24,478.52 540.87,474.98 543.50,471.46 546.12,467.94 548.75,464.43 551.38,460.94 554.01,457.44 556.63,453.96 559.26,450.49 561.89,447.03 564.52,443.57 567.15,440.12 569.77,436.69 572.40,433.26 575.03,429.84 577.66,426.43 580.29,423.03 582.91,419.64 585.54,416.26 588.17,412.89 590.80,409.53 593.43,406.17 596.05,402.83 598.68,399.50 601.31,396.18 603.94,392.87 606.56,389.56 609.19,386.27 611.82,382.99 614.45,379.72 617.08,376.46 619.70,373.21 622.33,369.97 624.96,366.74 627.59,363.52 630.22,360.32 632.84,357.12 635.47,353.94 638.10,350.76 640.73,347.60 643.35,344.45 645.98,341.31 648.61,338.18 651.24,335.06 653.87,331.95 656.49,328.86 659.12,325.78 661.75,322.71 664.38,319.65 667.01,316.60 669.63,313.56 672.26,310.54 674.89,307.53 677.52,304.53 680.15,301.54 682.77,298.57 685.40,295.61 688.03,292.66 690.66,289.72 693.28,286.79 695.91,283.88 698.54,280.98 701.17,278.10 703.80,275.22 706.42,272.36 709.05,269.52 711.68,266.68 714.31,263.86 716.94,261.06 719.56,258.26 722.19,255.48 724.82,252.71 727.45,249.96 730.08,247.22 732.70,244.50 735.33,241.78 737.96,239.09 740.59,236.40 743.21,233.73 745.84,231.08 748.47,228.43 751.10,225.81 753.73,223.19 756.35,220.60 758.98,218.01 761.61,215.44 764.24,212.89 766.87,210.35 769.49,207.82 772.12,205.31 774.75,202.82 777.38,200.34 780.01,197.87 782.63,195.42 785.26,192.99 787.89,190.57 790.52,188.16 793.14,185.78 795.77,183.40 798.40,181.05 801.03,178.70 803.66,176.38 806.28,174.07 808.91,171.77 811.54,169.50 814.17,167.24 816.80,164.99 819.42,162.76 822.05,160.55 824.68,158.35 827.31,156.17 829.94,154.01 832.56,151.86 835.19,149.73 837.82,147.62 840.45,145.52 843.07,143.44 845.70,141.38 848.33,139.33 850.96,137.30 853.59,135.29 856.21,133.30 858.84,131.32 861.47,129.36 864.10,127.42 866.73,125.50 869.35,123.59 871.98,121.70 874.61,119.83 877.24,117.98 879.87,116.15 882.49,114.33 885.12,112.53 887.75,110.75 890.38,108.99 893.00,107.24 895.63,105.52 898.26,103.81 900.89,102.12 903.52,100.45 906.14,98.80 908.77,97.17 911.40,95.56 914.03,93.96 916.66,92.39 919.28,90.83 921.91,89.30 924.54,87.78 927.17,86.28 929.80,84.80 932.42,83.34 935.05,81.90 937.68,80.48 940.31,79.08 942.93,77.70 945.56,76.34 948.19,75.00 950.82,73.68 953.45,72.38 956.07,71.10 958.70,69.84 961.33,68.60 963.96,67.38 966.59,66.18 969.21,65.00 971.84,63.84 974.47,62.70 977.10,61.59 979.73,60.49 982.35,59.42 984.98,58.36 987.61,57.33 990.24,56.32 992.86,55.33 995.49,54.36 998.12,53.41 1000.75,52.49 1003.38,51.58 1006.00,50.70 1008.63,49.84 1011.26,49.00 1013.89,48.18 1016.52,47.38 1019.14,46.61 1021.77,45.86 1024.40,45.13 1027.03,44.42 1029.65,43.73 1032.28,43.07 1034.91,42.43 1037.54,41.81 1040.17,41.22 1042.79,40.64 1045.42,40.09 1048.05,39.57 1050.68,39.06 1053.31,38.58 1055.93,38.12 1058.56,37.69 1061.19,37.27 1063.82,36.88 1066.45,36.52 1069.07,36.18 1071.70,35.86 1074.33,35.56 1076.96,35.29 1079.58,35.04 1082.21,34.82 1084.84,34.62 1087.47,34.44 1090.10,34.29 1092.72,34.16 1095.35,34.06 1097.98,33.98 1100.61,33.92 1103.24,33.89 1105.86,33.88 1108.49,33.90 1111.12,33.94 1113.75,34.01 1116.38,34.10 1119.00,34.22 1121.63,34.36 1124.26,34.52 1126.89,34.72 1129.51,34.93 1132.14,35.17 1134.77,35.44 1137.40,35.73 1140.03,36.05 1142.65,36.39 1145.28,36.76 1147.91,37.16 1150.54,37.58 1153.17,38.02 1155.79,38.50 1158.42,38.99 1161.05,39.52 1163.68,40.07 1166.31,40.64 1168.93,41.25 1171.56,41.88 1174.19,42.53 1176.82,43.21 1179.44,43.92 1182.07,44.66 1184.70,45.42 1187.33,46.21 1189.96,47.02 1192.58,47.86 1195.21,48.73 1197.84,49.63 1200.47,50.55 1203.10,51.50 1205.72,52.48 1208.35,53.49 1210.98,54.52 1213.61,55.58 1216.24,56.67 1218.86,57.78 1221.49,58.93 1224.12,60.10 1226.75,61.30 1229.37,62.52 1232.00,63.78 1234.63,65.06 1237.26,66.37 1239.89,67.71 1242.51,69.08 1245.14,70.48 1247.77,71.90 1250.40,73.36 1253.03,74.84 1255.65,76.35 1258.28,77.89 1260.91,79.46 1263.54,81.06 1266.17,82.68 1268.79,84.34 1271.42,86.03 1274.05,87.74 1276.68,89.48 1279.30,91.26 1281.93,93.06 1284.56,94.89 1287.19,96.75 1289.82,98.65 1292.44,100.57 1295.07,102.52 1297.70,104.50" fill="none" stroke="#800080" stroke-width="6"/>
</g>
<rect x="307" y="34.0" width="6" height="869.0" fill="#000"/>
<rect x="307" y="899" width="1308" height="4" fill="#000"/>
<rect x="293" y="900" width="14" height="1.4" fill="#000"/>
<rect x="301" y="815" width="6" height="1.4" fill="#000"/>
<rect x="293" y="730" width="14" height="1.4" fill="#000"/>
<rect x="301" y="645" width="6" height="1.4" fill="#000"/>
<rect x="293" y="560" width="14" height="1.4" fill="#000"/>
<rect x="301" y="476" width="6" height="1.4" fill="#000"/>
<rect x="293" y="391" width="14" height="1.4" fill="#000"/>
<rect x="301" y="306" width="6" height="1.4" fill="#000"/>
<rect x="293" y="221" width="14" height="1.4" fill="#000"/>
<rect x="301" y="136" width="6" height="1.4" fill="#000"/>
<rect x="293" y="51" width="14" height="1.4" fill="#000"/>
<rect x="310" y="903" width="1.4" height="12" fill="#000"/>
<rect x="440" y="903" width="1.4" height="5" fill="#000"/>
<rect x="570" y="903" width="1.4" height="12" fill="#000"/>
<rect x="701" y="903" width="1.4" height="5" fill="#000"/>
<rect x="831" y="903" width="1.4" height="12" fill="#000"/>
<rect x="962" y="903" width="1.4" height="5" fill="#000"/>
<rect x="1092" y="903" width="1.4" height="12" fill="#000"/>
<rect x="1223" y="903" width="1.4" height="5" fill="#000"/>
<rect x="1353" y="903" width="1.4" height="12" fill="#000"/>
<rect x="1484" y="903" width="1.4" height="5" fill="#000"/>
<rect x="1614" y="903" width="1.4" height="12" fill="#000"/>
<rect x="213" y="1056" width="1199" height="4" fill="#000"/>
<rect x="213" y="1294" width="1199" height="4" fill="#000"/>
<rect x="213" y="1056" width="5" height="242" fill="#000"/>
<rect x="1406" y="1056" width="6" height="242" fill="#000"/>
<g transform="scale(1.244124,1)">
<line x1="184.87" y1="1097.50" x2="300.45" y2="1097.50" stroke="#ffa500" stroke-width="7"/>
<line x1="184.87" y1="1173.50" x2="300.45" y2="1173.50" stroke="#ff0000" stroke-width="7" stroke-dasharray="51.5 16.5"/>
<line x1="184.87" y1="1249.00" x2="300.45" y2="1249.00" stroke="#008000" stroke-width="7" stroke-dasharray="85 17.3"/>
<line x1="660.71" y1="1097.50" x2="776.29" y2="1097.50" stroke="#0000ff" stroke-width="7" stroke-dasharray="7.8 15.94"/>
<line x1="660.71" y1="1173.50" x2="776.29" y2="1173.50" stroke="#800080" stroke-width="7" stroke-dasharray="34.7 16 8.2 16"/>
<line x1="660.71" y1="1249.00" x2="776.29" y2="1249.00" stroke="#800080" stroke-width="7"/>
</g>
<text transform="translate(107.66,68.34) scale(1.1971,1)" style="font-weight:normal;font-style:normal;font-size:53.01px;stroke:#000;stroke-width:0.75px">0.0010</text>
<text transform="translate(107.52,240.78) scale(1.1858,1)" style="font-weight:normal;font-style:normal;font-size:53.28px;stroke:#000;stroke-width:0.76px">0.0008</text>
<text transform="translate(107.53,410.27) scale(1.1711,1)" style="font-weight:normal;font-style:normal;font-size:53.88px;stroke:#000;stroke-width:0.77px">0.0006</text>
<text transform="translate(107.54,579.86) scale(1.1539,1)" style="font-weight:normal;font-style:normal;font-size:54.48px;stroke:#000;stroke-width:0.78px">0.0004</text>
<text transform="translate(107.50,748.57) scale(1.1843,1)" style="font-weight:normal;font-style:normal;font-size:53.88px;stroke:#000;stroke-width:0.76px">0.0002</text>
<text transform="translate(250.54,921.18) scale(1.2142,1)" style="font-weight:normal;font-style:normal;font-size:53.73px;stroke:#000;stroke-width:0.74px">0</text>
<text transform="translate(296.63,969.38) scale(1.2203,1)" style="font-weight:normal;font-style:normal;font-size:53.66px;stroke:#000;stroke-width:0.74px">0</text>
<text transform="translate(532.41,969.29) scale(1.1963,1)" style="font-weight:normal;font-style:normal;font-size:53.13px;stroke:#000;stroke-width:0.75px">0.2</text>
<text transform="translate(792.59,969.29) scale(1.1561,1)" style="font-weight:normal;font-style:normal;font-size:53.13px;stroke:#000;stroke-width:0.78px">0.4</text>
<text transform="translate(1053.47,969.29) scale(1.1659,1)" style="font-weight:normal;font-style:normal;font-size:53.13px;stroke:#000;stroke-width:0.77px">0.6</text>
<text transform="translate(1313.50,969.38) scale(1.1884,1)" style="font-weight:normal;font-style:normal;font-size:53.58px;stroke:#000;stroke-width:0.76px">0.8</text>
<text transform="translate(1603.38,969.45) scale(0.8753,1)" style="font-weight:normal;font-style:normal;font-size:52.88px;stroke:#000;stroke-width:1.03px">1</text>
<text transform="translate(708.99,1028.50) scale(1.1968,1)" style="font-weight:bold;font-style:normal;font-size:52.69px;stroke:#000;stroke-width:0.42px">Radial Distance: ϒ</text>
<text transform="translate(396.94,1111.56) scale(1.1919,1)" style="font-weight:normal;font-style:italic;font-size:52.24px;stroke:#000;stroke-width:0.67px">W</text>
<text transform="translate(443.50,1132.40) scale(1.2342,1)" style="font-weight:normal;font-style:italic;font-size:43.08px;stroke:#000;stroke-width:0.65px">RE</text>
<text transform="translate(517.70,1108.65) scale(1.6760,1)" style="font-weight:normal;font-style:normal;font-size:42.40px;stroke:#000;stroke-width:0.54px">=</text>
<text transform="translate(658.24,1111.02) scale(1.3528,1)" style="font-weight:normal;font-style:italic;font-size:48.33px;stroke:#000;stroke-width:0.59px">e</text>
<text transform="translate(702.61,1118.21) scale(1.3443,1)" style="font-weight:normal;font-style:normal;font-size:66.00px;stroke:#000;stroke-width:0.67px">−</text>
<text transform="translate(767.82,1110.93) scale(1.1710,1)" style="font-weight:normal;font-style:normal;font-size:51.67px;stroke:#000;stroke-width:0.77px">5</text>
<text transform="translate(396.94,1187.46) scale(1.1919,1)" style="font-weight:normal;font-style:italic;font-size:52.24px;stroke:#000;stroke-width:0.67px">W</text>
<text transform="translate(443.50,1208.30) scale(1.2342,1)" style="font-weight:normal;font-style:italic;font-size:43.08px;stroke:#000;stroke-width:0.65px">RE</text>
<text transform="translate(517.70,1184.55) scale(1.6760,1)" style="font-weight:normal;font-style:normal;font-size:42.40px;stroke:#000;stroke-width:0.54px">=</text>
<text transform="translate(658.24,1186.92) scale(1.3528,1)" style="font-weight:normal;font-style:italic;font-size:48.33px;stroke:#000;stroke-width:0.59px">e</text>
<text transform="translate(702.61,1194.11) scale(1.3443,1)" style="font-weight:normal;font-style:normal;font-size:66.00px;stroke:#000;stroke-width:0.67px">−</text>
<text transform="translate(767.82,1186.83) scale(1.1710,1)" style="font-weight:normal;font-style:normal;font-size:51.67px;stroke:#000;stroke-width:0.77px">5</text>
<text transform="translate(396.94,1263.36) scale(1.1919,1)" style="font-weight:normal;font-style:italic;font-size:52.24px;stroke:#000;stroke-width:0.67px">W</text>
<text transform="translate(443.50,1284.20) scale(1.2342,1)" style="font-weight:normal;font-style:italic;font-size:43.08px;stroke:#000;stroke-width:0.65px">RE</text>
<text transform="translate(517.70,1260.45) scale(1.6760,1)" style="font-weight:normal;font-style:normal;font-size:42.40px;stroke:#000;stroke-width:0.54px">=</text>
<text transform="translate(658.24,1262.82) scale(1.3528,1)" style="font-weight:normal;font-style:italic;font-size:48.33px;stroke:#000;stroke-width:0.59px">e</text>
<text transform="translate(702.61,1270.01) scale(1.3443,1)" style="font-weight:normal;font-style:normal;font-size:66.00px;stroke:#000;stroke-width:0.67px">−</text>
<text transform="translate(767.82,1262.73) scale(1.1710,1)" style="font-weight:normal;font-style:normal;font-size:51.67px;stroke:#000;stroke-width:0.77px">5</text>
<text transform="translate(988.94,1111.56) scale(1.1919,1)" style="font-weight:normal;font-style:italic;font-size:52.24px;stroke:#000;stroke-width:0.67px">W</text>
<text transform="translate(1035.50,1132.40) scale(1.2342,1)" style="font-weight:normal;font-style:italic;font-size:43.08px;stroke:#000;stroke-width:0.65px">RE</text>
<text transform="translate(1109.70,1108.65) scale(1.6760,1)" style="font-weight:normal;font-style:normal;font-size:42.40px;stroke:#000;stroke-width:0.54px">=</text>
<text transform="translate(1250.24,1111.02) scale(1.3528,1)" style="font-weight:normal;font-style:italic;font-size:48.33px;stroke:#000;stroke-width:0.59px">e</text>
<text transform="translate(1294.61,1118.21) scale(1.3443,1)" style="font-weight:normal;font-style:normal;font-size:66.00px;stroke:#000;stroke-width:0.67px">−</text>
<text transform="translate(1359.82,1110.93) scale(1.1710,1)" style="font-weight:normal;font-style:normal;font-size:51.67px;stroke:#000;stroke-width:0.77px">5</text>
<text transform="translate(988.94,1187.46) scale(1.1919,1)" style="font-weight:normal;font-style:italic;font-size:52.24px;stroke:#000;stroke-width:0.67px">W</text>
<text transform="translate(1035.50,1208.30) scale(1.2342,1)" style="font-weight:normal;font-style:italic;font-size:43.08px;stroke:#000;stroke-width:0.65px">RE</text>
<text transform="translate(1109.70,1184.55) scale(1.6760,1)" style="font-weight:normal;font-style:normal;font-size:42.40px;stroke:#000;stroke-width:0.54px">=</text>
<text transform="translate(1250.24,1186.92) scale(1.3528,1)" style="font-weight:normal;font-style:italic;font-size:48.33px;stroke:#000;stroke-width:0.59px">e</text>
<text transform="translate(1294.61,1194.11) scale(1.3443,1)" style="font-weight:normal;font-style:normal;font-size:66.00px;stroke:#000;stroke-width:0.67px">−</text>
<text transform="translate(1359.82,1186.83) scale(1.1710,1)" style="font-weight:normal;font-style:normal;font-size:51.67px;stroke:#000;stroke-width:0.77px">5</text>
<text transform="translate(988.94,1263.36) scale(1.1919,1)" style="font-weight:normal;font-style:italic;font-size:52.24px;stroke:#000;stroke-width:0.67px">W</text>
<text transform="translate(1035.50,1284.20) scale(1.2342,1)" style="font-weight:normal;font-style:italic;font-size:43.08px;stroke:#000;stroke-width:0.65px">RE</text>
<text transform="translate(1109.70,1260.45) scale(1.6760,1)" style="font-weight:normal;font-style:normal;font-size:42.40px;stroke:#000;stroke-width:0.54px">=</text>
<text transform="translate(1250.24,1262.82) scale(1.3528,1)" style="font-weight:normal;font-style:italic;font-size:48.33px;stroke:#000;stroke-width:0.59px">e</text>
<text transform="translate(1294.61,1270.01) scale(1.3443,1)" style="font-weight:normal;font-style:normal;font-size:66.00px;stroke:#000;stroke-width:0.67px">−</text>
<text transform="translate(1359.82,1262.73) scale(1.1710,1)" style="font-weight:normal;font-style:normal;font-size:51.67px;stroke:#000;stroke-width:0.77px">5</text>
<text transform="translate(569.87,1110.70) scale(1.1761,1)" style="font-weight:normal;font-style:normal;font-size:52.69px;stroke:#000;stroke-width:0.77px">0.5</text>
<text transform="translate(569.87,1186.60) scale(1.1761,1)" style="font-weight:normal;font-style:normal;font-size:52.69px;stroke:#000;stroke-width:0.77px">0.9</text>
<text transform="translate(569.87,1262.50) scale(1.1761,1)" style="font-weight:normal;font-style:normal;font-size:52.69px;stroke:#000;stroke-width:0.77px">1.3</text>
<text transform="translate(1161.87,1110.70) scale(1.1761,1)" style="font-weight:normal;font-style:normal;font-size:52.69px;stroke:#000;stroke-width:0.77px">0.7</text>
<text transform="translate(1161.87,1186.60) scale(1.1761,1)" style="font-weight:normal;font-style:normal;font-size:52.69px;stroke:#000;stroke-width:0.77px">1.1</text>
<text transform="translate(1161.87,1262.50) scale(1.1761,1)" style="font-weight:normal;font-style:normal;font-size:52.69px;stroke:#000;stroke-width:0.77px">1.5</text>
<text transform="translate(58.20,667.16) scale(1.2299,1) rotate(-90)" style="font-weight:bold;font-style:normal;font-size:52.91px">Radial Velocity:</text>
<text transform="translate(58.45,310.59) scale(1.1625,1) rotate(-90)" style="font-weight:bold;font-style:italic;font-size:56.18px">U</text>
<text transform="translate(84.00,277.14) scale(1.0858,1) rotate(-90)" style="font-weight:bold;font-style:italic;font-size:47.03px">r</text>
</svg>
</body></html>
